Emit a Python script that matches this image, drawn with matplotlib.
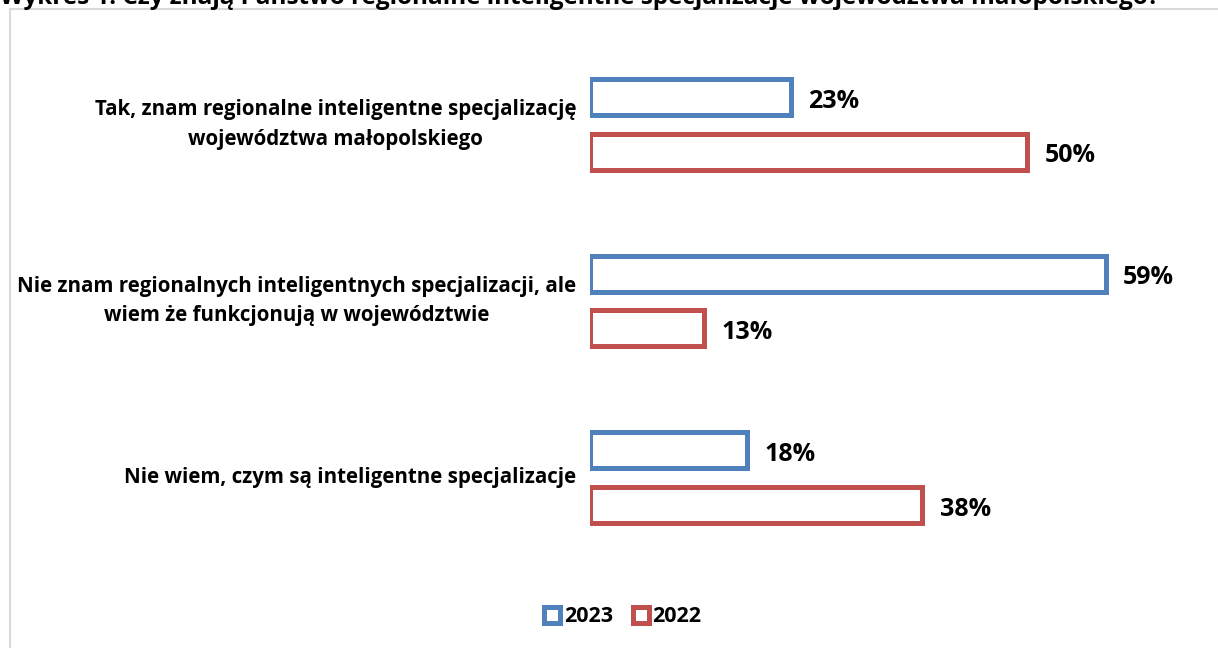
import matplotlib
matplotlib.use('Agg')
import matplotlib.pyplot as plt
from matplotlib.patches import Patch, Rectangle
import numpy as np

# data
categories = ['Tak, znam regionalne inteligentne specjalizację\nwojewództwa małopolskiego',
              'Nie znam regionalnych inteligentnych specjalizacji, ale\nwiem że funkcjonują w województwie',
              'Nie wiem, czym są inteligentne specjalizacje']
series_names = ['2023', '2022']
values_2023 = [23, 59, 18]
values_2022 = [50, 13, 38]
title = 'Wykres 1. Czy znają Państwo regionalne inteligentne specjalizacje województwa małopolskiego?'

blue = '#4F81BD'
red = '#C0504D'
font = 'Open Sans'

W, H = 1218, 648
fig = plt.figure(figsize=(W / 100, H / 100), dpi=100)

# chart frame (only left and top edge visible)
fig.patches.append(Rectangle((10 / W, -0.1), 1.2, 1 - 9 / H + 0.1, transform=fig.transFigure,
                             fill=False, edgecolor='#D9D9D9', linewidth=1.5))

# title, clipped at the top of the picture like in the source
fig.text(0 / W, 1 - 4 / H, title, ha='left', va='baseline', fontsize=17.5,
         fontweight='bold', family=font)

# axes: x from 590px, 8.74 px per percent
px_per_pct = 8.74
xmax = 70
ax = fig.add_axes([590 / W, 1 - 566 / H, xmax * px_per_pct / W, (566 - 36) / H])
ax.set_xlim(0, xmax)
ax.set_ylim(2.5, -0.5)
ax.axis('off')

y = np.arange(len(categories))
off = 0.155
h = 0.203
for vals, dy, col in [(values_2023, -off, blue), (values_2022, off, red)]:
    ax.barh(y + dy, vals, height=h, facecolor='white', edgecolor=col, linewidth=3.6)
    for yi, v in zip(y, vals):
        ax.annotate(f'{v}%', (v + 2.0, yi + dy), xytext=(0, -3), textcoords='offset points',
                    ha='left', va='center', fontsize=18, fontweight='bold', family=font)

for yi, c in zip(y, categories):
    ax.text(-1.6, yi, c, ha='right', va='center', multialignment='center',
            fontsize=14.8, fontweight='bold', family=font, linespacing=1.55)

handles = [Patch(facecolor='white', edgecolor=blue, linewidth=3.6),
           Patch(facecolor='white', edgecolor=red, linewidth=3.6)]
leg = fig.legend(handles, series_names, loc='center', bbox_to_anchor=(623 / W, 1 - 617 / H),
                 ncol=2, frameon=False, handlelength=0.75, handleheight=0.75,
                 handletextpad=0.15, columnspacing=0.95,
                 prop={'family': font, 'weight': 'bold', 'size': 15.5})

fig.savefig('out.png', dpi=100)
